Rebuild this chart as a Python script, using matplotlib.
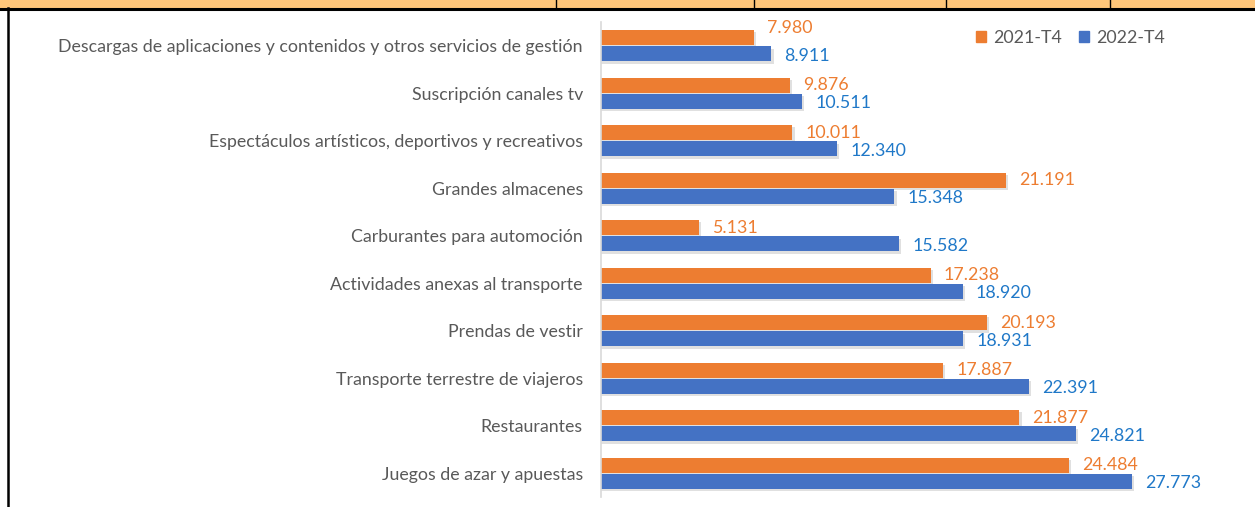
import matplotlib.pyplot as plt
from matplotlib.patches import Rectangle
from matplotlib.lines import Line2D

categories = [
    "Descargas de aplicaciones y contenidos y otros servicios de gestión",
    "Suscripción canales tv",
    "Espectáculos artísticos, deportivos y recreativos",
    "Grandes almacenes",
    "Carburantes para automoción",
    "Actividades anexas al transporte",
    "Prendas de vestir",
    "Transporte terrestre de viajeros",
    "Restaurantes",
    "Juegos de azar y apuestas",
]
v2021 = [7.980, 9.876, 10.011, 21.191, 5.131, 17.238, 20.193, 17.887, 21.877, 24.484]
v2022 = [8.911, 10.511, 12.340, 15.348, 15.582, 18.920, 18.931, 22.391, 24.821, 27.773]
series_names = ["2021-T4", "2022-T4"]

ORANGE = "#ED7D31"
BLUE = "#4472C4"
ORANGE_TXT = "#ED7D31"
BLUE_TXT = "#1F78C8"
GRAY = "#595959"

plt.rcParams["font.family"] = ["Lato", "DejaVu Sans"]

W, H = 1255, 507
fig = plt.figure(figsize=(W / 100, H / 100), dpi=100)


def fx(px):
    return px / W


def fy(py):
    return 1 - py / H


ax = fig.add_axes([fx(601), fy(497), fx(1174.6) - fx(601), fy(22) - fy(497)])

pos = list(range(len(categories)))
h = 0.32
off = 0.17


def fmt(v):
    return f"{v:.3f}"


# soft shadow under the bars
for vals, sign in ((v2021, -1), (v2022, 1)):
    ax.barh([p + sign * off + 0.05 for p in pos], [v + 0.12 for v in vals], height=h,
            color="#000000", alpha=0.12, zorder=1, linewidth=0)

ax.barh([p - off for p in pos], v2021, height=h, color=ORANGE, zorder=2, label=series_names[0])
ax.barh([p + off for p in pos], v2022, height=h, color=BLUE, zorder=2, label=series_names[1])

label_shift = {0: 7}
for i, v in enumerate(v2021):
    ax.annotate(fmt(v), (v, i - off), xytext=(9.5, label_shift.get(i, 0)),
                textcoords="offset points", ha="left", va="center",
                color=ORANGE_TXT, fontsize=12.8)
for i, v in enumerate(v2022):
    ax.annotate(fmt(v), (v, i + off), xytext=(9.5, -1.5),
                textcoords="offset points", ha="left", va="center",
                color=BLUE_TXT, fontsize=12.8)

ax.set_xlim(0, 30)
ax.set_ylim(len(categories) - 0.5, -0.5)
ax.set_yticks(pos)
ax.set_yticklabels(categories, color=GRAY, fontsize=12.8)
ax.tick_params(axis="y", length=0, pad=13)
ax.set_xticks([])
for s in ("top", "right", "bottom"):
    ax.spines[s].set_visible(False)
ax.spines["left"].set_color("#D9D9D9")
ax.spines["left"].set_linewidth(1.2)

handles = [Rectangle((0, 0), 1, 1, color=ORANGE), Rectangle((0, 0), 1, 1, color=BLUE)]
fig.legend(handles, series_names, loc="center left", bbox_to_anchor=(fx(960), fy(38)),
           ncol=2, frameon=False, fontsize=12.8, labelcolor=GRAY,
           handlelength=0.55, handleheight=0.55, handletextpad=0.4, columnspacing=1.0)

# table frame around the chart
fig.patches.append(Rectangle((0, fy(8)), 1, fy(0) - fy(8), transform=fig.transFigure,
                             color="#FFC67A", zorder=0))
fig.lines.append(Line2D([0, 1], [fy(8.8), fy(8.8)], transform=fig.transFigure,
                        color="black", linewidth=2.2))
fig.lines.append(Line2D([fx(7.8), fx(7.8)], [0, fy(8)], transform=fig.transFigure,
                        color="black", linewidth=1.8))
for x in (556, 754, 946, 1110):
    fig.lines.append(Line2D([fx(x), fx(x)], [fy(8), 1], transform=fig.transFigure,
                            color="black", linewidth=1.0))

fig.savefig("out.png", dpi=100)
